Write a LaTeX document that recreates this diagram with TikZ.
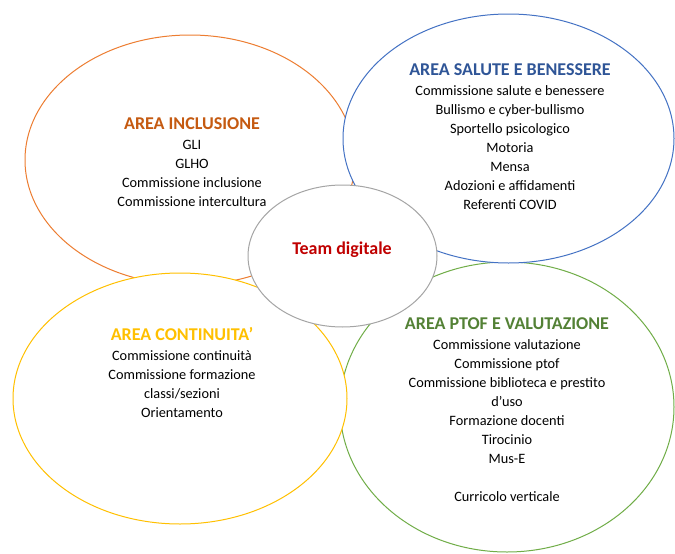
\documentclass[tikz,border=0pt]{standalone}
\usepackage{fontspec}
\setmainfont{Carlito}
\usetikzlibrary{shapes.geometric}
\definecolor{orgline}{HTML}{ED7D31}
\definecolor{orgtext}{HTML}{C55A11}
\definecolor{bluline}{HTML}{4472C4}
\definecolor{blutext}{HTML}{2F5597}
\definecolor{grayline}{HTML}{A5A5A5}
\definecolor{redtext}{HTML}{C00000}
\definecolor{yelline}{HTML}{FFC000}
\definecolor{grnline}{HTML}{70AD47}
\definecolor{grntext}{HTML}{538135}
\newcommand{\areahead}[2]{{\fontsize{18}{20}\selectfont\bfseries\color{#1}#2}\\[1pt]}
\begin{document}
\begin{tikzpicture}[x=1pt,y=-1pt,
  area/.style={ellipse, draw, fill=white, line width=1pt, inner sep=0pt},
  areatext/.style={align=center, anchor=north, inner sep=0pt,
    font=\fontsize{14.3}{19}\selectfont, text=black}]
\useasboundingbox[fill=white] (0,0) rectangle (675,554);
% ellipses
\node[area, draw=orgline, minimum width=330pt, minimum height=250pt] (inc) at (190,160) {};
\node[area, draw=grnline, minimum width=334pt, minimum height=290pt] (ptof) at (507,407) {};
\node[area, draw=bluline, minimum width=331pt, minimum height=249pt] (sal) at (508.5,138.5) {};
\node[area, draw=yelline, minimum width=334pt, minimum height=251pt] (cont) at (180,398.5) {};
\node[area, draw=grayline, minimum width=189pt, minimum height=142pt] (team) at (342.5,256) {};
% texts
\node[areatext] (incT) at (192,117) {\areahead{orgtext}{AREA INCLUSIONE}
GLI\\ GLHO\\ Commissione inclusione\\ Commissione intercultura};
\node[areatext] (salT) at (510,63) {\areahead{blutext}{AREA SALUTE E BENESSERE}
Commissione salute e benessere\\ Bullismo e cyber-bullismo\\ Sportello psicologico\\ Motoria\\ Mensa\\ Adozioni e affidamenti\\ Referenti COVID};
\node[anchor=base, inner sep=0pt, font=\fontsize{18}{20}\selectfont\bfseries, text=redtext] (teamT) at (342,254) {Team digitale};
\node[areatext] (contT) at (182,327) {\areahead{yelline}{AREA CONTINUITA’}
Commissione continuità\\ Commissione formazione\\ classi/sezioni\\ Orientamento};
\node[areatext] (ptofT) at (507,317) {\areahead{grntext}{AREA PTOF E VALUTAZIONE}
Commissione valutazione\\ Commissione ptof\\ Commissione biblioteca e prestito\\ d’uso\\ Formazione docenti\\ Tirocinio\\ Mus-E\\ \mbox{}\\ Curricolo verticale};
\end{tikzpicture}
\end{document}
